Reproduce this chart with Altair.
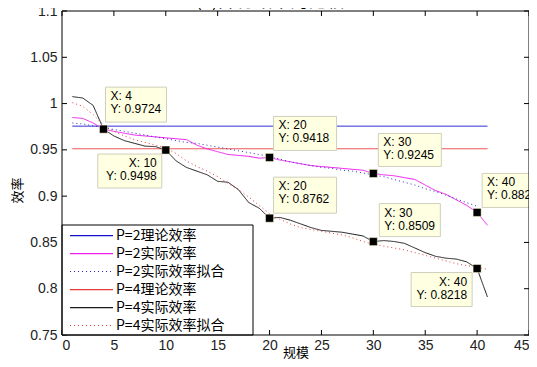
import altair as alt
import pandas as pd

# ---------------- data ----------------
x_vals = list(range(1, 42))
p2_theory = 0.9756
p4_theory = 0.9512
p2_actual = [0.985, 0.984, 0.979, 0.9724, 0.970, 0.968, 0.966, 0.965, 0.964, 0.963,
             0.962, 0.961, 0.955, 0.951, 0.948, 0.945, 0.944, 0.943, 0.941, 0.9418,
             0.939, 0.937, 0.935, 0.933, 0.932, 0.931, 0.930, 0.929, 0.928, 0.9245,
             0.923, 0.922, 0.920, 0.918, 0.912, 0.906, 0.902, 0.896, 0.890, 0.8824,
             0.8685]
p2_fit = [0.979, 0.978, 0.976, 0.974, 0.972, 0.970, 0.968, 0.966, 0.964, 0.962,
          0.960, 0.958, 0.957, 0.955, 0.953, 0.951, 0.949, 0.947, 0.945, 0.943,
          0.940, 0.937, 0.935, 0.933, 0.931, 0.930, 0.928, 0.927, 0.925, 0.923,
          0.921, 0.918, 0.915, 0.912, 0.908, 0.905, 0.901, 0.897, 0.893, 0.889]
p4_actual = [1.0075, 1.006, 0.998, 0.9724, 0.965, 0.960, 0.957, 0.954, 0.9535, 0.9498,
             0.938, 0.931, 0.927, 0.923, 0.916, 0.915, 0.907, 0.893, 0.887, 0.8762,
             0.877, 0.874, 0.870, 0.866, 0.863, 0.862, 0.861, 0.859, 0.857, 0.8509,
             0.852, 0.851, 0.849, 0.844, 0.839, 0.835, 0.833, 0.832, 0.829, 0.8218,
             0.791]
p4_fit = [1.001, 0.997, 0.988, 0.977, 0.970, 0.965, 0.961, 0.958, 0.955, 0.952,
          0.946, 0.938, 0.932, 0.927, 0.921, 0.914, 0.907, 0.899, 0.890, 0.881,
          0.875, 0.870, 0.866, 0.864, 0.862, 0.860, 0.858, 0.855, 0.851, 0.848,
          0.846, 0.844, 0.842, 0.839, 0.836, 0.833, 0.830, 0.827, 0.825, 0.823,
          0.821]
tip_x = [4, 10, 20, 30, 40, 20, 30, 40]
tip_y = [0.9724, 0.9498, 0.9418, 0.9245, 0.8824, 0.8762, 0.8509, 0.8218]
series_names = ["P=2理论效率", "P=2实际效率", "P=2实际效率拟合",
                "P=4理论效率", "P=4实际效率", "P=4实际效率拟合"]
x_ticks = [0, 5, 10, 15, 20, 25, 30, 35, 40, 45]
y_ticks = [0.75, 0.8, 0.85, 0.9, 0.95, 1.0, 1.05, 1.1]
title_text = "(a)并行效率的比较"

# ---------------- styles ----------------
colors = ["#1212cc", "#f020f0", "#2a2ac0", "#e63a3a", "#1a1a1a", "#e63a3a"]
dashes = [[1, 0], [1, 0], [1, 3], [1, 0], [1, 0], [1, 3]]
dotted = [False, False, True, False, False, True]
W, H = 467, 324
CJK = "Noto Sans CJK SC"
LAT = "Liberation Sans"

rows = []
for xv in x_vals:
    rows.append((series_names[0], xv, p2_theory))
    rows.append((series_names[3], xv, p4_theory))
for xv, yv in zip(x_vals, p2_actual):
    rows.append((series_names[1], xv, yv))
for xv, yv in zip(x_vals[:len(p2_fit)], p2_fit):
    rows.append((series_names[2], xv, yv))
for xv, yv in zip(x_vals, p4_actual):
    rows.append((series_names[4], xv, yv))
for xv, yv in zip(x_vals, p4_fit):
    rows.append((series_names[5], xv, yv))
df = pd.DataFrame(rows, columns=["series", "x", "y"])

xscale = alt.Scale(domain=[0, 45], nice=False, zero=False)
yscale = alt.Scale(domain=[0.75, 1.1], nice=False, zero=False)

xaxis = alt.Axis(values=x_ticks, ticks=False, domain=False, grid=False,
                 labelFont=LAT, labelFontSize=14, labelColor="#222",
                 labelPadding=3, title="规模", titleFont=CJK, titleFontSize=13,
                 titleFontWeight="normal", titleColor="#000", titleY=17,
                 titleBaseline="middle")
yaxis = alt.Axis(values=y_ticks, ticks=False, domain=False, grid=False,
                 format="~g", labelFont=LAT, labelFontSize=14, labelColor="#222",
                 labelPadding=5, title="效率", titleFont=CJK, titleFontSize=13,
                 titleFontWeight="normal", titleColor="#000", titleX=-45,
                 titleY=179, titleBaseline="middle", titleAngle=270)

lines = alt.Chart(df).mark_line(strokeWidth=1).encode(
    x=alt.X("x:Q", scale=xscale, axis=xaxis),
    y=alt.Y("y:Q", scale=yscale, axis=yaxis),
    color=alt.Color("series:N", scale=alt.Scale(domain=series_names, range=colors), legend=None),
    strokeDash=alt.StrokeDash("series:N", scale=alt.Scale(domain=series_names, range=dashes), legend=None),
    detail="series:N",
)

layers = [lines]

# inward ticks
xt = pd.DataFrame({"t": x_ticks})
yt = pd.DataFrame({"t": y_ticks})
for y0, y1 in [(H, H - 5), (0, 5)]:
    layers.append(alt.Chart(xt).mark_rule(strokeWidth=1).encode(
        x=alt.X("t:Q", scale=xscale), y=alt.value(y0), y2=alt.value(y1),
        stroke=alt.value("#000")))
for x0, x1 in [(0, 5), (W, W - 5)]:
    layers.append(alt.Chart(yt).mark_rule(strokeWidth=1).encode(
        y=alt.Y("t:Q", scale=yscale), x=alt.value(x0), x2=alt.value(x1),
        stroke=alt.value("#000")))

# data tips (box offsets in pixels relative to the marked point)
tip_layout = [
    (2, 63, -42, -7, "left"),
    (-68, -4, 4, 38, "right"),
    (4, 67, -41, -7, "left"),
    (5, 68, -40, -7, "left"),
    (5, 70, -39, -5, "left"),
    (4, 67, -41, -5, "left"),
    (6, 67, -38, -5, "left"),
    (-66, -5, 4, 38, "right"),
]
for (tx, ty), (bx0, bx1, by0, by1, al) in zip(zip(tip_x, tip_y), tip_layout):
    d = pd.DataFrame({"x": [tx], "y": [ty],
                      "label": [f"X: {tx}\nY: {ty:.4f}"]})
    layers.append(alt.Chart(d).mark_rect(
        fill="#ffffe1", stroke="#cfcfbc", strokeWidth=1,
        xOffset=bx0, x2Offset=bx1, yOffset=by0, y2Offset=by1).encode(
        x=alt.X("x:Q", scale=xscale), x2="x",
        y=alt.Y("y:Q", scale=yscale), y2="y"))
    dx = bx0 + 5 if al == "left" else bx1 - 5
    layers.append(alt.Chart(d).mark_text(
        align=al, baseline="top", lineBreak="\n", lineHeight=13,
        font=LAT, fontSize=12, color="#000", dx=dx, dy=by0 + 4).encode(
        x=alt.X("x:Q", scale=xscale), y=alt.Y("y:Q", scale=yscale),
        text="label:N"))

tips = pd.DataFrame({"x": tip_x, "y": tip_y})
layers.append(alt.Chart(tips).mark_square(size=64, color="#000", opacity=1,
                                          stroke="#fff8d0", strokeWidth=0.5).encode(
    x=alt.X("x:Q", scale=xscale), y=alt.Y("y:Q", scale=yscale)))

# manual legend
layers.append(alt.Chart(pd.DataFrame({"a": [0]})).mark_rect(strokeWidth=1).encode(
    x=alt.value(0), x2=alt.value(191), y=alt.value(214), y2=alt.value(H),
    fill=alt.value("#ffffff"), stroke=alt.value("#000000")))
for i, name in enumerate(series_names):
    yy = 224 + 18 * i
    ld = pd.DataFrame({"name": [name]})
    if dotted[i]:
        layers.append(alt.Chart(ld).mark_rule(strokeDash=dashes[i], strokeWidth=1).encode(
            x=alt.value(8), x2=alt.value(51), y=alt.value(yy + 0.5),
            color=alt.value(colors[i])))
    else:
        layers.append(alt.Chart(ld).mark_rect(strokeWidth=0).encode(
            x=alt.value(8), x2=alt.value(51), y=alt.value(yy), y2=alt.value(yy + 1.2),
            fill=alt.value(colors[i])))
    layers.append(alt.Chart(ld).mark_text(
        align="left", baseline="middle", font=CJK, fontSize=14).encode(
        x=alt.value(54), y=alt.value(yy + 0.5), text="name:N",
        fill=alt.value("#000000")))

# frame on top
layers.append(alt.Chart(pd.DataFrame({"a": [0]})).mark_rect(
    fill=None, strokeWidth=1).encode(
    x=alt.value(0), x2=alt.value(W), y=alt.value(0), y2=alt.value(H),
    stroke=alt.value("#000000")))

# title (mostly clipped at the top, as in the source)
layers.append(alt.Chart(pd.DataFrame({"t": [title_text]})).mark_text(
    align="center", baseline="bottom", font=CJK, fontSize=18).encode(
    x=alt.value(208), y=alt.value(0), text="t:N", fill=alt.value("#000000")))

chart = alt.layer(*layers).properties(
    width=W, height=H,
    autosize=alt.AutoSizeParams(type="none"),
    padding={"left": 54, "top": 3, "right": 0, "bottom": 24},
    background="#ffffff",
).configure_view(stroke=None)

chart.save("out.html", embed_options={"renderer": "svg", "actions": False})
